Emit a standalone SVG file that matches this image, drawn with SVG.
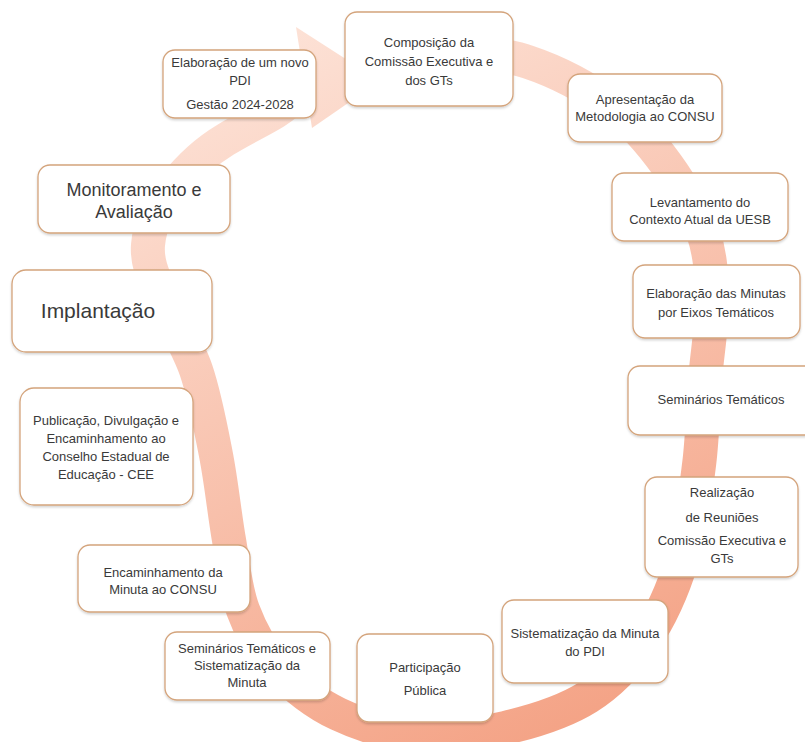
<svg xmlns="http://www.w3.org/2000/svg" width="805" height="742" viewBox="0 0 805 742">
<defs>
<linearGradient id="ringGrad" gradientUnits="userSpaceOnUse" x1="220" y1="30" x2="560" y2="735">
<stop offset="0" stop-color="#fde4d9"/>
<stop offset="1" stop-color="#f4a386"/>
</linearGradient>
<filter id="sh" x="-10%" y="-10%" width="120%" height="130%">
<feDropShadow dx="0" dy="1.5" stdDeviation="1.2" flood-color="#000" flood-opacity="0.18"/>
</filter>
</defs>
<style>
.box{fill:#fff;stroke:#d4a47c;stroke-width:1.3;filter:url(#sh)}
.t{font-family:"Liberation Sans",Arial,sans-serif;font-size:13px;fill:#3a3a3a;text-anchor:middle}
.big{font-size:18px}
.huge{font-size:21px}
</style>
<rect width="805" height="742" fill="#fff"/>
<g id="connectors">
<path d="M 420 42 C 438 45.3 496 51.3 528 62 C 560 72.7 588.8 88.8 612 106 C 635.2 123.2 651.8 144 667 165 C 682.2 186 695.5 209.5 703 232 C 710.5 254.5 711.7 275.3 712 300 C 712.3 324.7 707.2 352.5 705 380 C 702.8 407.5 702.8 435 699 465 C 695.2 495 691 530.8 682 560 C 673 589.2 660.7 617.2 645 640 C 629.3 662.8 611.3 682.3 588 697 C 564.7 711.7 533 721.5 505 728 C 477 734.5 447.8 738.3 420 736 C 392.2 733.7 361.8 725.3 338 714 C 314.2 702.7 292.8 685.3 277 668 C 261.2 650.7 251 631.3 243 610 C 235 588.7 233.5 565.8 229 540 C 224.5 514.2 221.5 483.3 216 455 C 210.5 426.7 204.8 395.8 196 370 C 187.2 344.2 171 320.8 163 300 C 155 279.2 146.5 264.5 148 245 C 149.5 225.5 160 202 174 186 C 190 166 205 152 225 140 C 245 128 262 120 275 112 C 288 104 298 94 306 86" fill="none" stroke="url(#ringGrad)" stroke-width="34"/>
<polygon points="296,27 380,81 312,128" fill="url(#ringGrad)"/>
</g>
<g id="n_elab_pdi"><rect class="box" x="163" y="50" width="153" height="68" rx="12"/>
<text class="t" x="240" y="67">Elaboração de um novo</text><text class="t" x="240" y="85">PDI</text><text class="t" x="240" y="109">Gestão 2024-2028</text></g>
<g id="n_composicao"><rect class="box" x="345" y="12" width="168" height="94" rx="12"/>
<text class="t" x="429" y="47">Composição da</text><text class="t" x="429" y="66">Comissão Executiva e</text><text class="t" x="429" y="85">dos GTs</text></g>
<g id="n_apresentacao"><rect class="box" x="568" y="74" width="154" height="68" rx="12"/>
<text class="t" x="645" y="104">Apresentação da</text><text class="t" x="645" y="121">Metodologia  ao CONSU</text></g>
<g id="n_levantamento"><rect class="box" x="612" y="173" width="176" height="68" rx="12"/>
<text class="t" x="700" y="207">Levantamento do</text><text class="t" x="700" y="224">Contexto Atual da UESB</text></g>
<g id="n_minutas"><rect class="box" x="633" y="265" width="167" height="73" rx="12"/>
<text class="t" x="716" y="298">Elaboração das Minutas</text><text class="t" x="716" y="317">por  Eixos Temáticos</text></g>
<g id="n_seminarios"><rect class="box" x="628" y="366" width="190" height="69" rx="12"/>
<text class="t" x="721" y="404">Seminários Temáticos</text></g>
<g id="n_reunioes"><rect class="box" x="645" y="477" width="153" height="100" rx="12"/>
<text class="t" x="722" y="497">Realização</text><text class="t" x="722" y="522">de Reuniões</text><text class="t" x="722" y="545">Comissão Executiva e</text><text class="t" x="722" y="563">GTs</text></g>
<g id="n_sistematizacao"><rect class="box" x="502" y="600" width="166" height="83" rx="12"/>
<text class="t" x="585" y="638">Sistematização da Minuta</text><text class="t" x="585" y="656">do PDI</text></g>
<g id="n_participacao"><rect class="box" x="357" y="634" width="136" height="88" rx="12"/>
<text class="t" x="425" y="672">Participação</text><text class="t" x="425" y="695">Pública</text></g>
<g id="n_sem_sist"><rect class="box" x="165" y="632" width="165" height="68" rx="12"/>
<text class="t" x="247" y="653">Seminários Temáticos e</text><text class="t" x="247" y="670">Sistematização da</text><text class="t" x="247" y="687">Minuta</text></g>
<g id="n_encaminhamento"><rect class="box" x="78" y="545" width="172" height="67" rx="12"/>
<text class="t" x="163" y="577">Encaminhamento  da</text><text class="t" x="163" y="594">Minuta  ao CONSU</text></g>
<g id="n_publicacao"><rect class="box" x="20" y="388" width="173" height="117" rx="14"/>
<text class="t" x="106" y="425">Publicação, Divulgação e</text><text class="t" x="106" y="443">Encaminhamento  ao</text><text class="t" x="106" y="461">Conselho Estadual de</text><text class="t" x="106" y="479">Educação - CEE</text></g>
<g id="n_implantacao"><rect class="box" x="12" y="270" width="200" height="82" rx="14"/>
<text class="t huge" x="98" y="318">Implantação</text></g>
<g id="n_monitoramento"><rect class="box" x="38" y="165" width="192" height="68" rx="12"/>
<text class="t big" x="134" y="196">Monitoramento e</text><text class="t big" x="134" y="218">Avaliação</text></g>
</svg>
